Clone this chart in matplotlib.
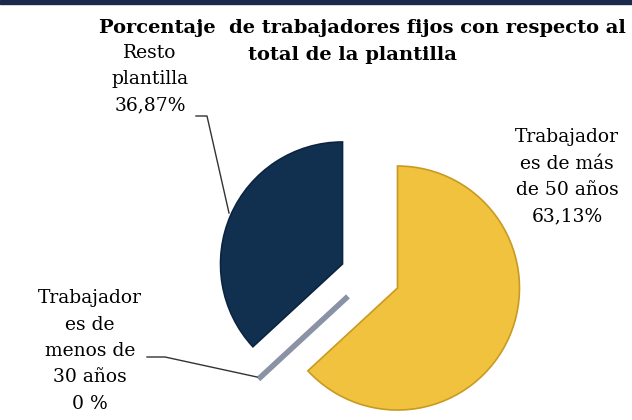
import matplotlib.pyplot as plt
from matplotlib.patches import Rectangle

# Datos del gráfico
categorias = ['Trabajadores de más de 50 años', 'Trabajadores de menos de 30 años', 'Resto plantilla']
valores = [63.13, 0.0, 36.87]
etiquetas = ['Trabajador\nes de más\nde 50 años\n63,13%',
             'Trabajador\nes de\nmenos de\n30 años\n0 %',
             'Resto\nplantilla\n36,87%']
colores = ['#F1C23E', '#9AA3B4', '#11304F']
titulo = ['Porcentaje  de trabajadores fijos con respecto al', 'total de la plantilla']

W, H = 632, 420
fig = plt.figure(figsize=(W / 100, H / 100), dpi=100)
ax = fig.add_axes([0, 0, 1, 1])
ax.axis('off')

# barra superior
ax.add_patch(Rectangle((0, H - 4), W, 4, color='#1B2A4A', zorder=5))

centro = (370, H - 276)
radio = 122
wedges, _ = ax.pie(valores, colors=colores, startangle=90, counterclock=False,
                   explode=[30, 30, 30], center=centro, radius=radio,
                   wedgeprops=dict(linewidth=1.2))
wedges[0].set_edgecolor('#C99A22')
wedges[2].set_edgecolor('#0B2440')
wedges[1].set_edgecolor('#8A93A5')
wedges[1].set_linewidth(4)
ax.set_xlim(0, W)
ax.set_ylim(0, H)
ax.set_aspect('equal')

fuente = 'DejaVu Serif'
ax.text(362, H - 28, titulo[0], ha='center', va='center', fontsize=14,
        fontweight='bold', family=fuente)
ax.text(352, H - 55, titulo[1], ha='center', va='center', fontsize=14,
        fontweight='bold', family=fuente)

kw = dict(ha='center', va='center', fontsize=13.5, family=fuente, linespacing=1.6)
ax.text(567, H - 177, etiquetas[0], **kw)
ax.text(90, H - 351, etiquetas[1], **kw)
ax.text(150, H - 79, etiquetas[2], **kw)

# líneas guía
ax.plot([196, 207, 229], [H - 116, H - 116, H - 213], color='#333333', lw=1)
ax.plot([147, 165, 257], [H - 357, H - 357, H - 377], color='#333333', lw=1)

fig.savefig('out.png', dpi=100)
